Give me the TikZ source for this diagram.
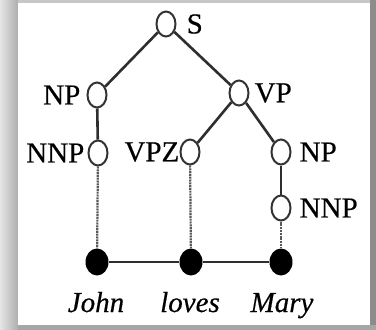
\documentclass[tikz,border=0pt]{standalone}
\usepackage{fontspec}
\setmainfont{Liberation Serif}
\newfontfamily\treefont{Liberation Serif}[FakeBold=0.4]
\usetikzlibrary{positioning}
\usetikzlibrary{shapes.geometric}

\begin{document}
\begin{tikzpicture}[x=1pt,y=-1pt,
    inner/.style={ellipse,draw=black!80,line width=2pt,fill=white,minimum width=19pt,minimum height=25pt,inner sep=0pt},
    leaf/.style={ellipse,fill=black,minimum width=23pt,minimum height=27pt,inner sep=0pt},
    tag/.style={inner sep=0pt,font=\treefont\fontsize{29}{29}\selectfont},
    word/.style={inner sep=0pt,anchor=base,font=\treefont\fontsize{29}{29}\selectfont\itshape},
    edge/.style={line width=2.6pt,black!82},
    link/.style={dash pattern=on 2pt off 0.8pt,line width=2.2pt,black!65}]

            % Frame with shadow
            \useasboundingbox (0,0) rectangle (376,330);
            \fill[black!22] (0,0) rectangle (376,330);
            \shade[left color=black!10,right color=black!32] (0,0) rectangle (18,330);
            \fill[black!45] (370,0) rectangle (376,330);
            \fill[black!35] (18,325) rectangle (376,330);
            \fill[white] (18,3) rectangle (370,325);

            % Positions of the tree nodes
            \coordinate (CS) at (166,24);
            \coordinate (CNP) at (97,95);
            \coordinate (CVP) at (239,93);
            \coordinate (CNNPa) at (98,153);
            \coordinate (CVPZ) at (190,152);
            \coordinate (CNPb) at (281,152);
            \coordinate (CNNPb) at (281,208);

            % Draw the phrase nodes
            \node[inner] (s) at (CS) {};
            \node[inner] (np) at (CNP) {};
            \node[inner] (vp) at (CVP) {};
            \node[inner] (nnpa) at (CNNPa) {};
            \node[inner] (vpz) at (CVPZ) {};
            \node[inner] (npb) at (CNPb) {};
            \node[inner] (nnpb) at (CNNPb) {};

            % Draw the word nodes
            \node[leaf] (dj) at (97,262) {};
            \node[leaf] (dl) at (191,262) {};
            \node[leaf] (dm) at (281,262) {};

            % Tags
            \node[tag,right=10pt of s] (sl) {S};
            \node[tag,left=6pt of np] (npl) {NP};
            \node[tag,right=5pt of vp] (vpl) {VP};
            \node[tag,left=3pt of nnpa] (nnpal) {NNP};
            \node[tag,left=0pt of vpz] (vpzl) {VPZ};
            \node[tag,right=8pt of npb] (npbl) {NP};
            \node[tag,right=8pt of nnpb] (nnpbl) {NNP};

            % Words
            \node[word] (wj) at (96,312) {John};
            \node[word] (wl) at (190,312) {loves};
            \node[word] (wm) at (282,312) {Mary};

            % Tree edges
            \draw[edge] (s) -- (np);
            \draw[edge] (s) -- (vp);
            \draw[edge] (np) -- (nnpa);
            \draw[edge] (vp) -- (vpz);
            \draw[edge] (vp) -- (npb);
            \draw[edge] (npb) -- (nnpb);

            % Links to the words
            \draw[link] (nnpa) -- (dj);
            \draw[link] (vpz) -- (dl);
            \draw[link] (nnpb) -- (dm);
            \draw[edge] (dj) -- (dl) -- (dm);

\end{tikzpicture}
\end{document}
